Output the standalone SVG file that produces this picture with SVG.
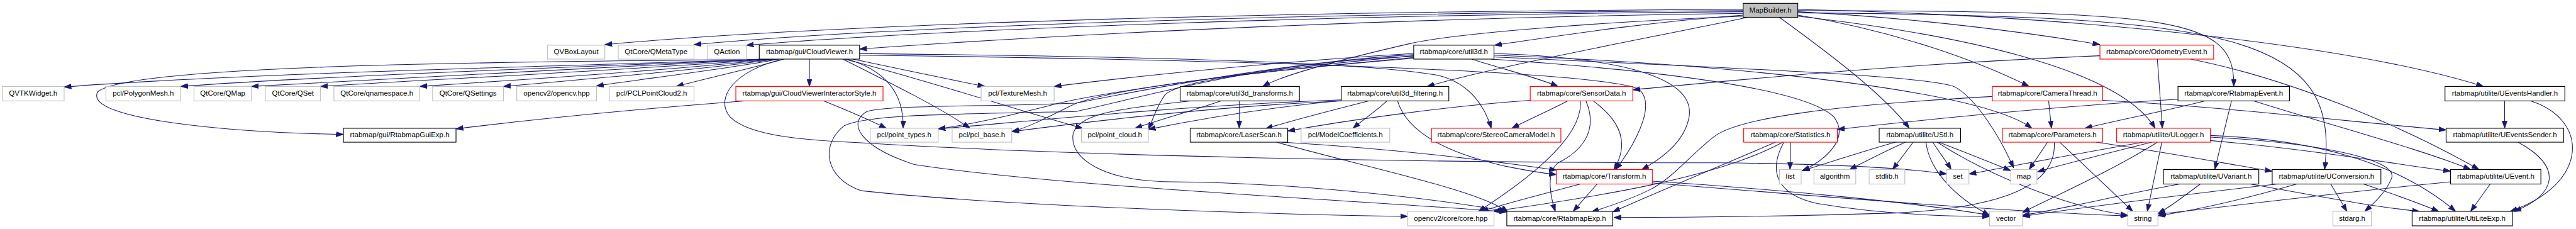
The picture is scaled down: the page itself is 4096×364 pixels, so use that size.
<svg xmlns="http://www.w3.org/2000/svg" width="4096" height="364" viewBox="0 0 4096 364">
<defs>
<style>
.n rect{fill:#fff;stroke-width:1.3}
.g rect{stroke:#bfbfbf}
.k rect{stroke:#000}
.r rect{stroke:#ff0000}
.root rect{fill:#bfbfbf;stroke:#000}
.n text{font-family:"Liberation Sans",Arial,Helvetica,sans-serif;font-size:13px;text-anchor:middle;fill:#000}
#edges path{fill:none;stroke:#191970;stroke-width:1.2;marker-end:url(#ah)}
</style>
<marker id="ah" markerUnits="userSpaceOnUse" markerWidth="14" markerHeight="10" refX="13" refY="5" orient="auto" viewBox="0 0 14 10"><path d="M0,0.5 L13,5 L0,9.5 z" fill="#191970" stroke="#191970" stroke-width="1"/></marker>
</defs>
<rect width="4096" height="364" fill="#fff"/>
<g transform="scale(0.88639)">
<g id="edges">
<path d="M3127,17 C2300,20 1500,42 1085,80"/>
<path d="M3127,19 C2350,23 1600,47 1245,80"/>
<path d="M3127,21 C2400,26 1700,52 1339,81"/>
<path d="M3127,24 C2500,32 1900,62 1542,88"/>
<path d="M3127,27 C2950,40 2800,64 2681,81"/>
<path d="M3127,29 C2900,38 2620,58 2530,78 C2400,108 2300,135 2265,155"/>
<path d="M3135,31 C2950,70 2700,115 2560,155"/>
<path d="M3225,21 C3450,33 3650,60 3767,80"/>
<path d="M3225,27 C3400,55 3550,110 3640,155"/>
<path d="M3225,19 C3900,20 4010,30 4007,155"/>
<path d="M3225,23 C4000,28 4200,60 4170,304"/>
<path d="M3225,17 C3800,30 4250,90 4455,155"/>
<path d="M3192,31 C3280,95 3380,170 3425,230"/>
<path d="M3225,29 C3500,60 3800,120 3866,230"/>
<path d="M1375,106 C1050,118 450,130 115,156"/>
<path d="M1378,106 C1050,120 600,135 324,155"/>
<path d="M1381,106 C1100,122 720,138 451,155"/>
<path d="M1384,106 C1150,124 820,140 575,155"/>
<path d="M1388,106 C1200,126 950,142 753,155"/>
<path d="M1392,106 C1250,126 1050,142 903,155"/>
<path d="M1398,106 C1300,124 1150,142 1070,154"/>
<path d="M1406,106 C1350,122 1270,140 1213,155"/>
<path d="M1452,106 L1452,155"/>
<path d="M1372,106 C900,112 230,115 175,165 C150,215 420,238 616,241"/>
<path d="M1520,106 C1585,125 1622,165 1620,230"/>
<path d="M1512,106 C1600,150 1690,195 1740,230"/>
<path d="M1530,106 C1620,125 1700,142 1767,155"/>
<path d="M1542,96 C2100,102 2450,112 2580,135 C2640,150 2665,195 2675,230"/>
<path d="M1542,99 C2300,108 2880,130 2940,160 C2975,190 2925,270 2898,304"/>
<path d="M1405,106 C1320,125 1280,175 1310,210 C1345,245 1450,252 1545,256 C1900,278 2500,292 3080,292 C3300,294 3430,303 3492,312"/>
<path d="M1515,106 C1650,140 1850,205 1942,230"/>
<path d="M1335,181 C1150,195 950,215 818,231"/>
<path d="M1478,181 C1520,198 1560,215 1590,230"/>
<path d="M2536,96 C2300,110 2050,135 1891,155"/>
<path d="M2536,100 C2250,125 1950,170 1880,190 C1800,210 1730,225 1683,231"/>
<path d="M2540,104 C2250,128 1980,160 1920,190 C1870,215 1840,230 1815,236"/>
<path d="M2536,103 C2300,125 2120,140 2090,170 C2075,190 2068,215 2060,232"/>
<path d="M2640,106 C2700,125 2760,140 2795,155"/>
<path d="M2680,96 C2950,105 3040,150 3030,210 C3022,255 2980,285 2945,304"/>
<path d="M2680,99 C3100,115 3550,160 3645,230"/>
<path d="M2680,102 C3100,122 3450,135 3505,155 C3545,175 3590,250 3612,301"/>
<path d="M2675,106 C3000,128 3240,160 3290,210 C3320,250 3270,290 3233,306"/>
<path d="M2536,98 C2300,112 2030,165 1930,185 C1750,192 1590,188 1555,200 C1520,220 1540,262 1640,295 C1900,335 2450,360 2703,380"/>
<path d="M2536,101 C2250,112 2050,175 1930,200 C1700,205 1560,205 1515,225 C1470,260 1480,320 1545,342 C1800,370 2300,385 2525,388"/>
<path d="M2190,181 C2140,198 2080,215 2036,230"/>
<path d="M2223,181 L2223,230"/>
<path d="M2135,181 C2000,195 1935,205 1925,240 C1918,285 1980,325 2100,326 C2300,327 2550,352 2703,379"/>
<path d="M2488,181 C2470,198 2445,215 2427,230"/>
<path d="M2455,181 C2380,200 2310,218 2270,231"/>
<path d="M2410,180 C2250,195 2120,220 2060,232"/>
<path d="M2406,181 C2150,192 1900,225 1815,236"/>
<path d="M2406,179 C2100,190 1800,222 1683,231"/>
<path d="M2507,181 C2525,240 2600,275 2700,298 C2740,306 2770,311 2792,313"/>
<path d="M2812,181 C2780,198 2740,215 2712,230"/>
<path d="M2858,181 C2905,215 2925,255 2895,304"/>
<path d="M2845,181 C2870,240 2830,275 2795,292 C2772,310 2782,355 2790,379"/>
<path d="M2835,181 C2840,240 2760,310 2652,379"/>
<path d="M2745,180 C2600,190 2420,215 2310,235"/>
<path d="M3767,100 C3400,115 3100,145 2929,161"/>
<path d="M3870,106 L3879,230"/>
<path d="M3930,106 C4100,140 4300,220 4447,304"/>
<path d="M3675,181 L3680,230"/>
<path d="M3772,180 C4000,192 4250,222 4388,233"/>
<path d="M3574,173 C3300,188 3120,210 3075,245 C3030,280 3000,320 2960,340 C2920,360 2880,372 2855,380"/>
<path d="M3907,178 C3700,190 3450,215 3296,232"/>
<path d="M3955,181 C3880,200 3800,215 3740,230"/>
<path d="M4003,181 L3973,304"/>
<path d="M4043,181 C4200,230 4350,270 4432,304"/>
<path d="M3212,255 L3211,304"/>
<path d="M3185,255 C3080,300 2960,350 2893,380"/>
<path d="M3198,255 C3080,320 2850,355 2678,379"/>
<path d="M3200,255 C3170,310 3190,350 3260,365 C3380,385 3500,388 3569,388"/>
<path d="M3400,255 C3330,275 3270,295 3233,306"/>
<path d="M3418,255 C3380,272 3345,290 3318,304"/>
<path d="M3432,255 L3395,304"/>
<path d="M3467,255 C3480,275 3492,290 3500,304"/>
<path d="M3478,255 C3530,275 3580,295 3607,306"/>
<path d="M3455,255 C3460,300 3500,350 3569,386"/>
<path d="M3475,255 C3560,310 3700,370 3817,386"/>
<path d="M3673,255 L3640,304"/>
<path d="M3695,255 L3826,379"/>
<path d="M3685,255 C3690,330 3600,372 3400,382 C3200,388 3000,390 2895,390"/>
<path d="M3760,255 C3900,275 4000,295 4076,307"/>
<path d="M3845,255 C3700,280 3600,300 3532,312"/>
<path d="M3860,255 C3780,275 3700,295 3655,308"/>
<path d="M3870,255 C3800,300 3680,355 3628,381"/>
<path d="M3878,255 L3852,379"/>
<path d="M3965,243 C4150,250 4300,290 4405,379"/>
<path d="M3965,246 C4150,255 4305,285 4290,320 C4280,345 4258,365 4242,379"/>
<path d="M3965,252 C4150,268 4300,295 4396,307"/>
<path d="M3947,330 C3920,350 3895,370 3871,383"/>
<path d="M3910,330 C3800,350 3700,375 3628,386"/>
<path d="M4037,330 C4150,350 4250,370 4340,379"/>
<path d="M4181,330 L4210,379"/>
<path d="M4120,330 C4050,350 3950,375 3871,387"/>
<path d="M4085,330 C3950,345 3750,370 3628,388"/>
<path d="M4240,330 C4300,350 4340,365 4375,379"/>
<path d="M4467,330 L4432,379"/>
<path d="M4396,326 C4200,345 4000,370 3872,384"/>
<path d="M4493,181 L4493,230"/>
<path d="M4540,181 C4645,215 4645,330 4503,379"/>
<path d="M4517,255 C4600,300 4585,350 4510,379"/>
<path d="M2865,330 L2822,379"/>
<path d="M2835,330 C2760,350 2700,365 2657,379"/>
<path d="M2964,325 C3200,340 3450,365 3569,386"/>
<path d="M2964,328 C3300,355 3600,380 3817,387"/>
<path d="M2300,255 C2550,270 2720,295 2792,305"/>
<path d="M2290,255 C2450,300 2650,340 2705,380"/>
</g>
<g id="n_MapBuilder" class="n root"><rect x="3127" y="6" width="98" height="25"/><text x="3176" y="22.5">MapBuilder.h</text></g>
<g id="n_QVBoxLayout" class="n g"><rect x="982" y="81" width="103" height="25"/><text x="1033.5" y="97.5">QVBoxLayout</text></g>
<g id="n_QMetaType" class="n g"><rect x="1109" y="81" width="136" height="25"/><text x="1177" y="97.5">QtCore/QMetaType</text></g>
<g id="n_QAction" class="n g"><rect x="1269" y="81" width="70" height="25"/><text x="1304" y="97.5">QAction</text></g>
<g id="n_CloudViewer" class="n k"><rect x="1362" y="81" width="180" height="25"/><text x="1452" y="97.5">rtabmap/gui/CloudViewer.h</text></g>
<g id="n_util3d" class="n k"><rect x="2536" y="81" width="144" height="25"/><text x="2608" y="97.5">rtabmap/core/util3d.h</text></g>
<g id="n_OdometryEvent" class="n r"><rect x="3767" y="81" width="204" height="25"/><text x="3869" y="97.5">rtabmap/core/OdometryEvent.h</text></g>
<g id="n_QVTKWidget" class="n g"><rect x="4" y="155" width="111" height="26"/><text x="59.5" y="171.5">QVTKWidget.h</text></g>
<g id="n_PolygonMesh" class="n g"><rect x="190" y="155" width="134" height="26"/><text x="257" y="171.5">pcl/PolygonMesh.h</text></g>
<g id="n_QMap" class="n g"><rect x="348" y="155" width="103" height="26"/><text x="399.5" y="171.5">QtCore/QMap</text></g>
<g id="n_QSet" class="n g"><rect x="476" y="155" width="99" height="26"/><text x="525.5" y="171.5">QtCore/QSet</text></g>
<g id="n_qnamespace" class="n g"><rect x="599" y="155" width="154" height="26"/><text x="676" y="171.5">QtCore/qnamespace.h</text></g>
<g id="n_QSettings" class="n g"><rect x="776" y="155" width="127" height="26"/><text x="839.5" y="171.5">QtCore/QSettings</text></g>
<g id="n_opencv" class="n g"><rect x="927" y="155" width="143" height="26"/><text x="998.5" y="171.5">opencv2/opencv.hpp</text></g>
<g id="n_PCLPointCloud2" class="n g"><rect x="1093" y="155" width="152" height="26"/><text x="1169" y="171.5">pcl/PCLPointCloud2.h</text></g>
<g id="n_CVIS" class="n r"><rect x="1320" y="155" width="264" height="26"/><text x="1452" y="171.5">rtabmap/gui/CloudViewerInteractorStyle.h</text></g>
<g id="n_TextureMesh" class="n g"><rect x="1760" y="155" width="131" height="26"/><text x="1825.5" y="171.5">pcl/TextureMesh.h</text></g>
<g id="n_util3d_transforms" class="n k"><rect x="2117" y="155" width="214" height="26"/><text x="2224" y="171.5">rtabmap/core/util3d_transforms.h</text></g>
<g id="n_util3d_filtering" class="n k"><rect x="2406" y="155" width="193" height="26"/><text x="2502.5" y="171.5">rtabmap/core/util3d_filtering.h</text></g>
<g id="n_SensorData" class="n r"><rect x="2745" y="155" width="184" height="26"/><text x="2837" y="171.5">rtabmap/core/SensorData.h</text></g>
<g id="n_CameraThread" class="n r"><rect x="3574" y="155" width="198" height="26"/><text x="3673" y="171.5">rtabmap/core/CameraThread.h</text></g>
<g id="n_RtabmapEvent" class="n k"><rect x="3907" y="155" width="200" height="26"/><text x="4007" y="171.5">rtabmap/core/RtabmapEvent.h</text></g>
<g id="n_UEventsHandler" class="n k"><rect x="4386" y="155" width="215" height="26"/><text x="4493.5" y="171.5">rtabmap/utilite/UEventsHandler.h</text></g>
<g id="n_RtabmapGuiExp" class="n k"><rect x="616" y="230" width="202" height="25"/><text x="717" y="246.5">rtabmap/gui/RtabmapGuiExp.h</text></g>
<g id="n_point_types" class="n g"><rect x="1561" y="230" width="122" height="25"/><text x="1622" y="246.5">pcl/point_types.h</text></g>
<g id="n_pcl_base" class="n g"><rect x="1708" y="230" width="107" height="25"/><text x="1761.5" y="246.5">pcl/pcl_base.h</text></g>
<g id="n_point_cloud" class="n g"><rect x="1940" y="230" width="120" height="25"/><text x="2000" y="246.5">pcl/point_cloud.h</text></g>
<g id="n_LaserScan" class="n k"><rect x="2135" y="230" width="175" height="25"/><text x="2222.5" y="246.5">rtabmap/core/LaserScan.h</text></g>
<g id="n_ModelCoefficients" class="n g"><rect x="2334" y="230" width="159" height="25"/><text x="2413.5" y="246.5">pcl/ModelCoefficients.h</text></g>
<g id="n_StereoCameraModel" class="n r"><rect x="2568" y="230" width="232" height="25"/><text x="2684" y="246.5">rtabmap/core/StereoCameraModel.h</text></g>
<g id="n_Statistics" class="n r"><rect x="3128" y="230" width="168" height="25"/><text x="3212" y="246.5">rtabmap/core/Statistics.h</text></g>
<g id="n_UStl" class="n k"><rect x="3371" y="230" width="146" height="25"/><text x="3444" y="246.5">rtabmap/utilite/UStl.h</text></g>
<g id="n_Parameters" class="n r"><rect x="3592" y="230" width="180" height="25"/><text x="3682" y="246.5">rtabmap/core/Parameters.h</text></g>
<g id="n_ULogger" class="n r"><rect x="3797" y="230" width="168" height="25"/><text x="3881" y="246.5">rtabmap/utilite/ULogger.h</text></g>
<g id="n_UEventsSender" class="n k"><rect x="4388" y="230" width="211" height="25"/><text x="4493.5" y="246.5">rtabmap/utilite/UEventsSender.h</text></g>
<g id="n_Transform" class="n r"><rect x="2792" y="304" width="172" height="26"/><text x="2878" y="320.5">rtabmap/core/Transform.h</text></g>
<g id="n_list" class="n g"><rect x="3192" y="304" width="39" height="26"/><text x="3211.5" y="320.5">list</text></g>
<g id="n_algorithm" class="n g"><rect x="3254" y="304" width="75" height="26"/><text x="3291.5" y="320.5">algorithm</text></g>
<g id="n_stdlib" class="n g"><rect x="3353" y="304" width="64" height="26"/><text x="3385" y="320.5">stdlib.h</text></g>
<g id="n_set" class="n g"><rect x="3492" y="304" width="40" height="26"/><text x="3512" y="320.5">set</text></g>
<g id="n_map" class="n g"><rect x="3607" y="304" width="47" height="26"/><text x="3630.5" y="320.5">map</text></g>
<g id="n_UVariant" class="n k"><rect x="3881" y="304" width="171" height="26"/><text x="3966.5" y="320.5">rtabmap/utilite/UVariant.h</text></g>
<g id="n_UConversion" class="n k"><rect x="4076" y="304" width="195" height="26"/><text x="4173.5" y="320.5">rtabmap/utilite/UConversion.h</text></g>
<g id="n_UEvent" class="n k"><rect x="4396" y="304" width="162" height="26"/><text x="4477" y="320.5">rtabmap/utilite/UEvent.h</text></g>
<g id="n_core_hpp" class="n g"><rect x="2525" y="379" width="155" height="26"/><text x="2602.5" y="395.5">opencv2/core/core.hpp</text></g>
<g id="n_RtabmapExp" class="n k"><rect x="2703" y="379" width="190" height="26"/><text x="2798" y="395.5">rtabmap/core/RtabmapExp.h</text></g>
<g id="n_vector" class="n g"><rect x="3569" y="379" width="59" height="26"/><text x="3598.5" y="395.5">vector</text></g>
<g id="n_string" class="n g"><rect x="3817" y="379" width="54" height="26"/><text x="3844" y="395.5">string</text></g>
<g id="n_stdarg" class="n g"><rect x="4185" y="379" width="69" height="26"/><text x="4219.5" y="395.5">stdarg.h</text></g>
<g id="n_UtiLiteExp" class="n k"><rect x="4327" y="379" width="180" height="26"/><text x="4417" y="395.5">rtabmap/utilite/UtiLiteExp.h</text></g>
</g>
</svg>
